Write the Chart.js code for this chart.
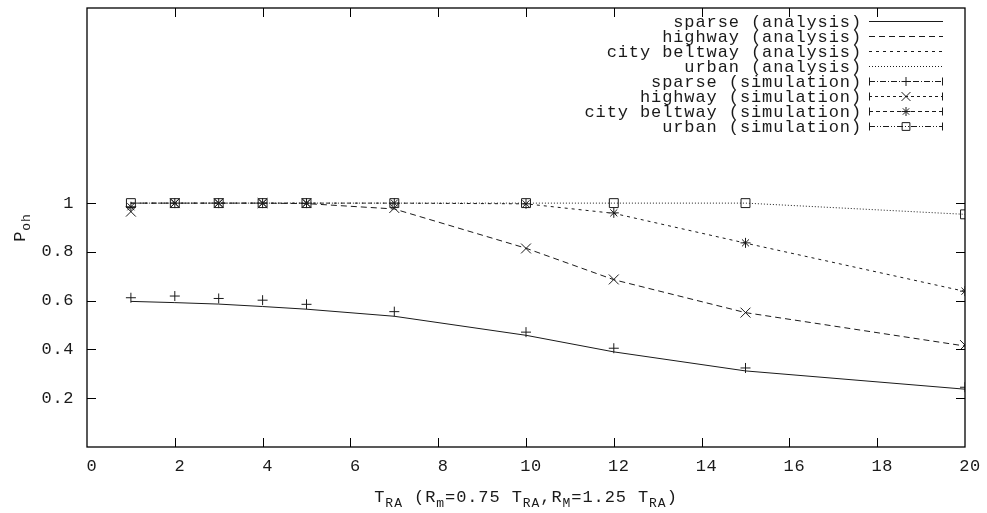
<!DOCTYPE html>
<html>
<head>
<meta charset="utf-8">
<script src="https://cdn.jsdelivr.net/npm/chart.js@4/dist/chart.umd.min.js"></script>
<style>
html,body{margin:0;padding:0;background:#fff;}
#wrap{width:987px;height:513px;}
</style>
</head>
<body>
<div id="wrap"><canvas id="c" width="987" height="513"></canvas></div>
<script>
// ---- data ----
const xValues = [1, 2, 3, 4, 5, 7, 10, 12, 15, 20];
const sparseAnalysis  = [0.597, 0.592, 0.586, 0.576, 0.565, 0.536, 0.458, 0.390, 0.312, 0.237];
const highwayAnalysis = [1.000, 1.000, 1.000, 1.000, 0.998, 0.976, 0.815, 0.686, 0.551, 0.414];
const cityAnalysis    = [1.000, 1.000, 1.000, 1.000, 1.000, 1.000, 0.997, 0.958, 0.836, 0.638];
const urbanAnalysis   = [1.000, 1.000, 1.000, 1.000, 1.000, 1.000, 1.000, 1.000, 1.000, 0.954];
const sparseSim  = [0.612, 0.619, 0.609, 0.602, 0.585, 0.555, 0.471, 0.405, 0.324, 0.245];
const highwaySim = [0.965, 1.000, 1.000, 1.000, 1.000, 0.980, 0.814, 0.687, 0.551, 0.418];
const citySim    = [0.985, 1.000, 1.000, 1.000, 1.000, 1.000, 0.997, 0.960, 0.837, 0.639];
const urbanSim   = [1.000, 1.000, 1.000, 1.000, 1.000, 1.000, 1.000, 1.000, 1.000, 0.954];
const seriesLabels = [
  'sparse (analysis)', 'highway (analysis)', 'city beltway (analysis)', 'urban (analysis)',
  'sparse (simulation)', 'highway (simulation)', 'city beltway (simulation)', 'urban (simulation)'
];
const xTicks = [0, 2, 4, 6, 8, 10, 12, 14, 16, 18, 20];
const yTicks = [0.2, 0.4, 0.6, 0.8, 1];
const xMin = 0, xMax = 20, yMin = 0, yMax = 1.8;

// ---- styling ----
const FONT = "'Liberation Mono', 'DejaVu Sans Mono', monospace";
const INK = '#1a1a1a';
const pts = arr => arr.map((v, i) => ({x: xValues[i], y: v}));

function lineDs(label, values, dash) {
  return {label, data: pts(values), borderColor: INK, borderWidth: 1, borderDash: dash,
    pointRadius: 0, showLine: true, tension: 0, fill: false, kind: 'line'};
}
function simDs(label, values, style, radius, legendDash) {
  return {label, data: pts(values), showLine: false, pointStyle: style, pointRadius: radius,
    pointHoverRadius: radius, pointBorderColor: INK, pointBackgroundColor: 'rgba(0,0,0,0)',
    pointBorderWidth: 1, borderColor: INK, kind: 'sim', legendDash};
}

const datasets = [
  lineDs(seriesLabels[0], sparseAnalysis, []),
  lineDs(seriesLabels[1], highwayAnalysis, [6, 4]),
  lineDs(seriesLabels[2], cityAnalysis, [3, 4]),
  lineDs(seriesLabels[3], urbanAnalysis, [1, 2]),
  simDs(seriesLabels[4], sparseSim, 'cross', 5, [6, 2, 1, 2]),
  simDs(seriesLabels[5], highwaySim, 'crossRot', 7, [3, 3]),
  simDs(seriesLabels[6], citySim, 'star', 5, [4, 3]),
  simDs(seriesLabels[7], urbanSim, 'rect', 6.3, [6, 2, 1, 2, 1, 2])
];

function drawMarker(ctx, style, r, x, y) {
  ctx.beginPath();
  const d = r * Math.SQRT1_2;
  if (style === 'cross' || style === 'star') {
    ctx.moveTo(x - r, y); ctx.lineTo(x + r, y);
    ctx.moveTo(x, y - r); ctx.lineTo(x, y + r);
  }
  if (style === 'crossRot' || style === 'star') {
    ctx.moveTo(x - d, y - d); ctx.lineTo(x + d, y + d);
    ctx.moveTo(x - d, y + d); ctx.lineTo(x + d, y - d);
  }
  if (style === 'rect') {
    ctx.rect(x - d, y - d, 2 * d, 2 * d);
  }
  ctx.stroke();
}

function drawSegments(ctx, segs, x, y, align) {
  let total = 0;
  const setF = sub => {
    ctx.font = (sub ? '13px ' : '17px ') + FONT;
    ctx.letterSpacing = sub ? '1px' : '0.9px';
  };
  const measured = segs.map(([t, sub]) => {
    setF(sub);
    const w = ctx.measureText(t).width;
    total += w;
    return [t, sub, w];
  });
  let cx = align === 'center' ? x - total / 2 : x;
  ctx.textAlign = 'left';
  ctx.textBaseline = 'alphabetic';
  measured.forEach(([t, sub, w]) => {
    setF(sub);
    ctx.fillText(t, cx, y + (sub ? 5 : 0));
    cx += w;
  });
}

const framePlugin = {
  id: 'frame',
  beforeDraw(chart) {
    try { chart.ctx.letterSpacing = '0.6px'; } catch (e) {}
  },
  afterDraw(chart) {
    const ctx = chart.ctx;
    const a = chart.chartArea;
    const xs = chart.scales.x, ys = chart.scales.y;
    ctx.save();
    ctx.strokeStyle = '#000';
    ctx.fillStyle = INK;
    ctx.setLineDash([]);
    ctx.lineWidth = 1;
    const TL = 9;
    ctx.beginPath();
    xs.ticks.forEach(t => {
      if (t.value <= xMin || t.value >= xMax) return;
      const px = Math.round(xs.getPixelForValue(t.value)) + 0.5;
      ctx.moveTo(px, a.bottom); ctx.lineTo(px, a.bottom - TL);
      ctx.moveTo(px, a.top); ctx.lineTo(px, a.top + TL);
    });
    ys.ticks.forEach(t => {
      const py = Math.round(ys.getPixelForValue(t.value)) + 0.5;
      ctx.moveTo(a.left, py); ctx.lineTo(a.left + TL, py);
      ctx.moveTo(a.right, py); ctx.lineTo(a.right - TL, py);
    });
    ctx.stroke();
    ctx.lineWidth = 1.3;
    ctx.strokeRect(a.left, a.top, a.right - a.left, a.bottom - a.top);

    // legend
    const textRight = 862, s1 = 869, s2 = 943;
    chart.data.datasets.forEach((ds, i) => {
      const y = Math.round(20.5 + 15.1 * i) + 0.5;
      ctx.font = '17px ' + FONT;
      ctx.letterSpacing = '0.9px';
      ctx.textAlign = 'right';
      ctx.textBaseline = 'middle';
      ctx.fillStyle = INK;
      ctx.fillText(ds.label, textRight, y + 0.5);
      ctx.strokeStyle = INK;
      ctx.lineWidth = 1;
      if (ds.kind === 'line') {
        ctx.setLineDash(ds.borderDash || []);
        ctx.beginPath(); ctx.moveTo(s1, y); ctx.lineTo(s2, y); ctx.stroke();
      } else {
        ctx.setLineDash(ds.legendDash);
        ctx.beginPath(); ctx.moveTo(s1, y); ctx.lineTo(s2, y); ctx.stroke();
        ctx.setLineDash([]);
        ctx.beginPath();
        ctx.moveTo(s1 + 0.5, y - 4); ctx.lineTo(s1 + 0.5, y + 4);
        ctx.moveTo(s2 - 0.5, y - 4); ctx.lineTo(s2 - 0.5, y + 4);
        ctx.stroke();
        drawMarker(ctx, ds.pointStyle, ds.pointStyle === 'rect' ? 5.5 : ds.pointRadius * 0.9, (s1 + s2) / 2, y);
      }
    });
    ctx.setLineDash([]);

    ctx.fillStyle = INK;
    drawSegments(ctx, [['T', 0], ['RA', 1], [' (R', 0], ['m', 1], ['=0.75 T', 0], ['RA', 1],
      [',R', 0], ['M', 1], ['=1.25 T', 0], ['RA', 1], [')', 0]], (a.left + a.right) / 2, 502, 'center');
    ctx.save();
    ctx.translate(25, (a.top + a.bottom) / 2);
    ctx.rotate(-Math.PI / 2);
    drawSegments(ctx, [['P', 0], ['oh', 1]], 0, 0, 'center');
    ctx.restore();
    ctx.restore();
    try { ctx.letterSpacing = '0px'; } catch (e) {}
  }
};

Chart.defaults.font.family = FONT;
Chart.defaults.font.size = 17;
Chart.defaults.color = INK;

new Chart(document.getElementById('c'), {
  type: 'scatter',
  data: {datasets},
  options: {
    responsive: false,
    animation: false,
    events: [],
    layout: {padding: {top: 8, right: 22, left: 0, bottom: 0}},
    plugins: {legend: {display: false}, tooltip: {enabled: false}, title: {display: false}},
    scales: {
      x: {
        type: 'linear', min: xMin, max: xMax,
        afterBuildTicks: s => { s.ticks = xTicks.map(v => ({value: v})); },
        afterFit: s => { s.height = 66; s.paddingLeft = 0; s.paddingRight = 0; s.paddingTop = 0; s.paddingBottom = 0; },
        grid: {display: false, drawTicks: false},
        border: {display: false},
        ticks: {padding: 9, labelOffset: 5, maxRotation: 0, autoSkip: false,
          callback: v => String(v)}
      },
      y: {
        type: 'linear', min: yMin, max: yMax,
        afterBuildTicks: s => { s.ticks = yTicks.map(v => ({value: v})); },
        afterFit: s => { s.width = 87; s.paddingTop = 0; s.paddingBottom = 0; s.paddingLeft = 0; s.paddingRight = 0; },
        grid: {display: false, drawTicks: false},
        border: {display: false},
        ticks: {padding: 13, autoSkip: false, callback: v => String(v)}
      }
    }
  },
  plugins: [framePlugin]
});
</script>
</body>
</html>
